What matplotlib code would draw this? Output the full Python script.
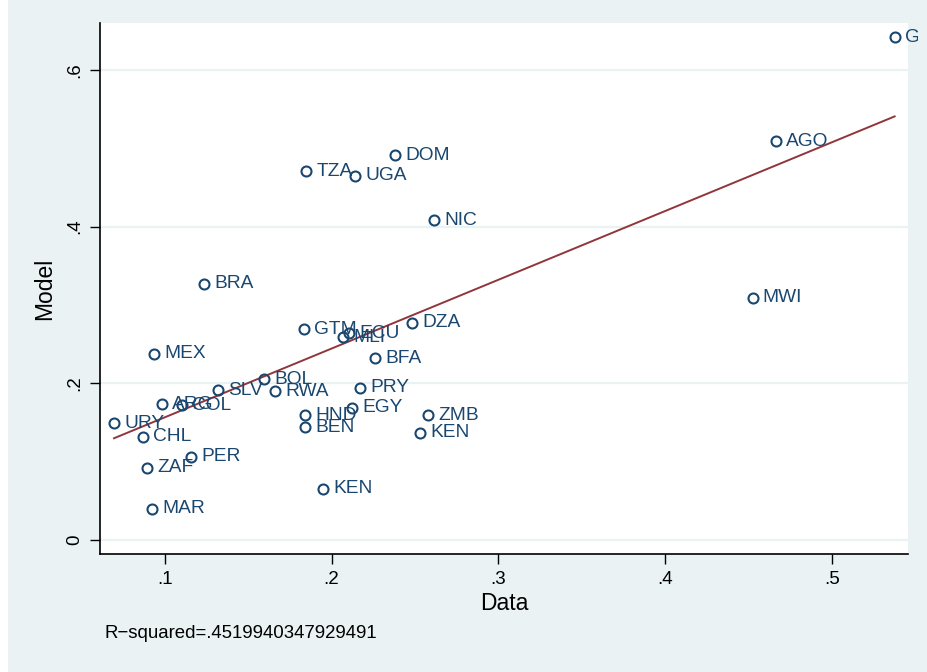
import numpy as np
import matplotlib.pyplot as plt
from matplotlib.patches import Rectangle
from matplotlib.transforms import Bbox

# country codes with observed (data) and predicted (model) shares
countries = ["GIN", "AGO", "MWI", "DOM", "TZA", "UGA", "NIC", "BRA", "GTM", "MLI",
             "ECU", "DZA", "MEX", "BFA", "BOL", "SLV", "RWA", "PRY", "ARG", "COL",
             "EGY", "HND", "BEN", "ZMB", "KEN", "URY", "CHL", "PER", "ZAF", "KEN",
             "MAR"]
data_vals = [0.5375, 0.4661, 0.4523, 0.2382, 0.1848, 0.2142, 0.2616, 0.1236, 0.1836, 0.2070,
             0.2104, 0.2484, 0.0936, 0.2262, 0.1596, 0.1320, 0.1662, 0.2172, 0.0984, 0.1104,
             0.2124, 0.1842, 0.1842, 0.2580, 0.2532, 0.0696, 0.0870, 0.1158, 0.0894, 0.1950,
             0.0924]
model_vals = [0.642, 0.509, 0.309, 0.491, 0.4705, 0.465, 0.408, 0.327, 0.269, 0.259,
              0.264, 0.277, 0.238, 0.232, 0.205, 0.191, 0.190, 0.194, 0.173, 0.172,
              0.169, 0.159, 0.144, 0.159, 0.137, 0.149, 0.132, 0.106, 0.092, 0.065,
              0.040]
r2_text = "R\u2212squared=.4519940347929491"

navy = "#1A476F"
maroon = "#90353B"
bg = "#EAF2F3"

plt.rcParams['font.family'] = ['Liberation Sans', 'DejaVu Sans']

fig = plt.figure(figsize=(9.27, 6.72), dpi=100)
fig.patch.set_facecolor("white")
fig.patches.append(Rectangle((8 / 927, 0), 1, 1, transform=fig.transFigure,
                             facecolor=bg, edgecolor="none", zorder=-5))

ax = fig.add_axes([100 / 927, (672 - 554) / 672, 808 / 927, 531 / 672])
ax.set_facecolor("white")

x = np.array(data_vals)
y = np.array(model_vals)

for g in [0, 0.2, 0.4, 0.6]:
    ax.axhline(g, color=bg, lw=1.6, zorder=1)

ax.plot(x, y, "o", ms=7.2, mfc="none", mec=navy, mew=1.5, zorder=3)

# labels are clipped a little past the right edge of the plot region
label_clip = Bbox.from_extents(100, 0, 918, 672)
for c, xi, yi in zip(countries, x, y):
    t = ax.annotate(c, (xi, yi), xytext=(7.3, 0), textcoords="offset points",
                    va="center", ha="left", fontsize=13.8, color=navy,
                    annotation_clip=False, zorder=4)
    t.set_clip_on(True)
    t.set_clip_box(label_clip)

# linear fit over the observed range
b, a = np.polyfit(x, y, 1)
xs = np.array([x.min(), x.max()])
ax.plot(xs, a + b * xs, color=maroon, lw=1.4, zorder=2)

ax.set_xlim(0.0612, 0.5455)
ax.set_ylim(-0.018, 0.660)
ax.set_xticks([0.1, 0.2, 0.3, 0.4, 0.5])
ax.set_xticklabels([".1", ".2", ".3", ".4", ".5"])
ax.set_yticks([0, 0.2, 0.4, 0.6])
ax.set_yticklabels(["0", ".2", ".4", ".6"], rotation=90, va="center")
ax.tick_params(direction="out", length=7, width=1, labelsize=13.5, pad=5)
for s in ["top", "right"]:
    ax.spines[s].set_visible(False)
for s in ["left", "bottom"]:
    ax.spines[s].set_linewidth(1.2)
ax.set_xlabel("Data", fontsize=16.5, labelpad=3)
ax.set_ylabel("Model", fontsize=16.5, labelpad=7)

fig.text(104 / 927, 1 - 633 / 672, r2_text, fontsize=13.4, va="center", ha="left")

fig.savefig("out.png", dpi=100)
